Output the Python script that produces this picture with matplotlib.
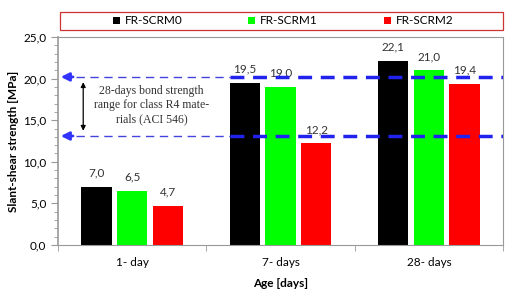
import matplotlib.pyplot as plt
import numpy as np
from matplotlib.patches import FancyBboxPatch
from matplotlib.ticker import MultipleLocator

ages = ["1- day", "7- days", "28- days"]
series = ["FR-SCRM0", "FR-SCRM1", "FR-SCRM2"]
scrm0 = [7.0, 19.5, 22.1]
scrm1 = [6.5, 19.0, 21.0]
scrm2 = [4.7, 12.2, 19.4]
colors = ["#000000", "#00ff00", "#ff0000"]
yticks = [0, 5, 10, 15, 20, 25]
aci_upper = 20.2
aci_lower = 13.1

plt.rcParams['font.family'] = ['Lato', 'DejaVu Sans']
fs = 8.5

fig = plt.figure(figsize=(5.07, 2.98), dpi=100)
ax = fig.add_axes([58 / 507, 1 - 245 / 298, 445 / 507, 208 / 298])

x = np.arange(len(ages))
w = 0.205
off = 0.24
for i, (vals, c, name) in enumerate(zip([scrm0, scrm1, scrm2], colors, series)):
    pos = x + (i - 1) * off
    ax.bar(pos, vals, width=w, color=c, label=name, zorder=2)
    for p, v in zip(pos, vals):
        ax.text(p, v + 1.0, f"{v:.1f}".replace(".", ","), ha="center", va="bottom",
                fontsize=fs, color="#333333")

ax.set_xticks(x)
ax.set_xticklabels(ages, fontsize=fs)
ax.set_xticks([-0.5, 0.5, 1.5, 2.5], minor=True)
ax.tick_params(axis="x", which="major", length=0, pad=9)
ax.tick_params(axis="x", which="minor", length=4, color="#999999", direction="out")
ax.set_yticks(yticks)
ax.set_yticklabels([f"{t:.1f}".replace(".", ",") for t in yticks], fontsize=fs)
ax.yaxis.set_minor_locator(MultipleLocator(1))
ax.tick_params(axis="y", which="both", direction="out", color="#999999")
ax.tick_params(axis="y", which="major", length=5)
ax.tick_params(axis="y", which="minor", length=3)
ax.set_xlim(-0.5, 2.5)
ax.set_ylim(0, 25)
for s in ax.spines.values():
    s.set_color("#999999")
ax.spines["left"].set_linewidth(1.2)

ax.set_ylabel("Slant-shear strength [MPa]", fontsize=fs, fontweight="bold", labelpad=3)
ax.set_xlabel("Age [days]", fontsize=fs, fontweight="bold", labelpad=7)

# ACI 546 range lines
x_split = 1 - off - w / 2
for yv in (aci_upper, aci_lower):
    ax.plot([-0.38, x_split], [yv, yv], color="#4444dd", lw=1.0, ls=(0, (6, 4)), zorder=3)
    ax.plot([x_split, 2.5], [yv, yv], color="#2222ee", lw=2.5, ls=(0, (4, 2.5)), zorder=3)
    ax.annotate("", xy=(-0.5, yv), xytext=(-0.38, yv),
                arrowprops=dict(arrowstyle="-|>", color="#3333ff", lw=2,
                                mutation_scale=12), annotation_clip=False, zorder=4)
ax.annotate("", xy=(-0.33, aci_lower + 0.3), xytext=(-0.33, aci_upper - 0.3),
            arrowprops=dict(arrowstyle="<|-|>", color="black", lw=0.9, mutation_scale=7))
ax.text(0.13, 16.8, "28-days bond strength\nrange for class R4 mate-\nrials (ACI 546)",
        ha="center", va="center", fontsize=8.5, family="Liberation Serif",
        color="#333333", linespacing=1.2)

leg = fig.legend(loc="center", bbox_to_anchor=(283 / 507, 1 - 21 / 298), ncol=3,
                 fontsize=fs, handlelength=0.6, handleheight=0.6, handletextpad=0.4,
                 columnspacing=5.6, frameon=False)
fig.patches.append(FancyBboxPatch((60 / 507, 1 - 30 / 298), 443 / 507, 18 / 298,
                                  boxstyle="square,pad=0", transform=fig.transFigure,
                                  fill=False, edgecolor="#cc3333", lw=0.9))

fig.savefig("out.png", dpi=100)
